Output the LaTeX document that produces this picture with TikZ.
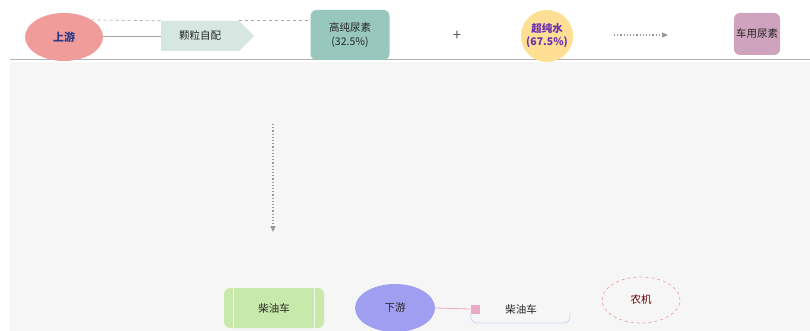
\documentclass[tikz,border=0pt]{standalone}
\usepackage{fontspec}
\newfontfamily\cjk{Noto Sans CJK SC}
\usetikzlibrary{shapes.geometric,shapes.symbols,arrows.meta}
\definecolor{bgray}{HTML}{F6F6F6}
\definecolor{salmon}{HTML}{F09C9A}
\definecolor{chev}{HTML}{D6E7E1}
\definecolor{teal}{HTML}{98C8BD}
\definecolor{yel}{HTML}{FEDF94}
\definecolor{mauve}{HTML}{CFA2BD}
\definecolor{lgreen}{HTML}{C7EAAA}
\definecolor{lav}{HTML}{A09EF0}
\definecolor{pinkq}{HTML}{E9A8C4}
\definecolor{lblue}{HTML}{C8DAF0}
\definecolor{redd}{HTML}{EFA3A3}
\definecolor{txt}{HTML}{262626}
\definecolor{navy}{HTML}{2E3A86}
\definecolor{purp}{HTML}{6A2FB0}
\tikzset{
  lbl/.style={font=\cjk\fontsize{10.5}{14}\selectfont, text=txt, align=center, inner sep=2pt},
  ovalbox/.style={ellipse, lbl, minimum width=78pt, minimum height=48pt},
  rbox/.style={rectangle, rounded corners=6pt, lbl},
  dashconn/.style={draw=gray!70, dashed, line width=0.6pt},
  dotarrow/.style={draw=gray!80, dotted, line width=1.2pt, -{Triangle[length=6pt,width=5pt]}},
}
\begin{document}
\begin{tikzpicture}[x=1pt,y=-1pt]
\useasboundingbox (0,0) rectangle (810,331);
\clip (0,0) rectangle (810,331);
\fill[white] (0,0) rectangle (810,331);
\fill[bgray] (10,62) rectangle (810,331);
\draw[gray!60, line width=1pt] (10,60) -- (810,60);

% top row
\node[ovalbox, fill=salmon, text=navy, font=\cjk\bfseries\fontsize{11}{13}\selectfont] (up) at (64,37) {上游};
\node[signal, signal to=east, fill=chev, lbl, minimum width=93pt, minimum height=30pt] (chev) at (200,36) {颗粒自配};
\node[rbox, fill=teal, minimum width=79pt, minimum height=50pt] (urea) at (350,35) {高纯尿素\\(32.5\%)};
\node[lbl, font=\cjk\fontsize{15}{15}\selectfont, text=gray!70!black] (plus) at (457,36) {+};
\node[circle, fill=yel, lbl, text=purp, font=\cjk\bfseries\fontsize{10.5}{13}\selectfont, minimum size=52pt, inner sep=0pt] (water) at (547,36) {超纯水\\(67.5\%)};
\node[rbox, fill=mauve, minimum width=46pt, minimum height=42pt, inner sep=0pt] (car) at (757,34) {车用尿素};

\draw[gray!70, line width=0.6pt] (up.east |- chev.west) -- (chev.west);
\draw[dashconn] (up.north east) -- (chev.north west);
\draw[dashconn] (chev.north east) -- (urea.north west |- chev.north east);

\coordinate (da1) at (614,35);
\coordinate (da2) at (668,35);
\draw[dotarrow] (da1) -- (da2);

\coordinate (va1) at (273,124);
\coordinate (va2) at (273,232);
\draw[dotarrow] (va1) -- (va2);

% bottom row
\node[rbox, fill=lgreen, minimum width=100pt, minimum height=40pt] (diesel) at (274,308) {柴油车};
\draw[white!85!lgreen, line width=0.8pt] ([xshift=10pt]diesel.north west) -- ([xshift=10pt]diesel.south west);
\draw[white!85!lgreen, line width=0.8pt] ([xshift=-10pt]diesel.north east) -- ([xshift=-10pt]diesel.south east);

\node[ovalbox, fill=lav, minimum width=80pt] (down) at (395,308) {下游};
\node[rectangle, fill=pinkq, minimum size=9pt, inner sep=0pt] (sq) at (475,309) {};
\draw[pinkq, line width=0.8pt] (down.east) -- (sq.west);

\node[lbl] (car2) at (521,309) {柴油车};
\draw[lblue, line width=0.8pt, rounded corners=6pt] (471,313) -- (471,323) -- (570,323) -- (570,313);

\node[ellipse, draw=redd, dashed, line width=0.7pt, lbl, text=red!40!black, minimum width=78pt, minimum height=46pt] (agri) at (641,300) {农机};
\end{tikzpicture}
\end{document}
